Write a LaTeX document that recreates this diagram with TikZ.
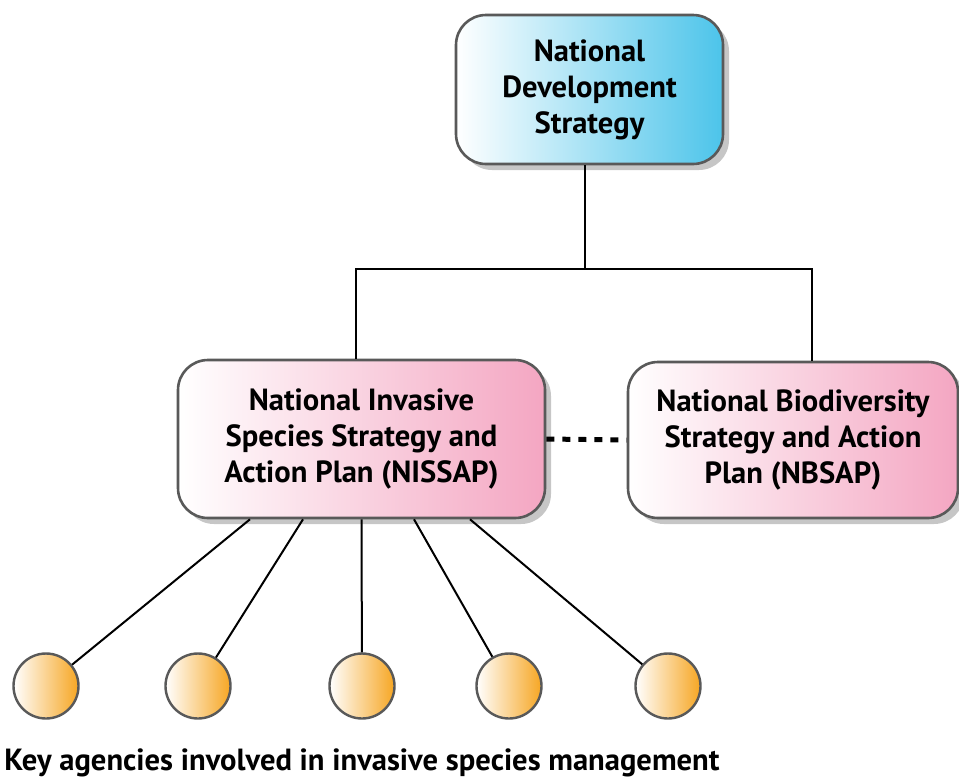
\documentclass[tikz,border=0pt]{standalone}
\usepackage{fontspec}
\setmainfont{PT Sans}
\usetikzlibrary{positioning,shadows}
\definecolor{devblue}{HTML}{4CC4EA}
\definecolor{planpink}{HTML}{F4A6C2}
\definecolor{agorange}{HTML}{F6A623}
\tikzset{node distance=2.0cm, auto}
\tikzset{
  plan/.style={draw=black!65, line width=1.3pt, rounded corners=15pt, align=center,
    left color=white, font=\bfseries\fontsize{15.3}{18}\selectfont,
    drop shadow={shadow xshift=3pt, shadow yshift=-3pt, opacity=0.45}},
  agency/.style={circle, draw=black!65, line width=1.2pt, minimum size=32.5pt,
    inner sep=0pt, left color=white, right color=agorange},
  link/.style={line width=1pt},
  dots/.style={line width=2.5pt, dash pattern=on 4pt off 4pt}
}
\begin{document}
\begin{tikzpicture}[x=0.5pt, y=-0.5pt]
\useasboundingbox (0,0) rectangle (959,778);

\node[plan, right color=devblue, minimum width=133.5pt, minimum height=74.5pt]
  (nds) at (589.5,89.5) {National\\Development\\Strategy};
\node[plan, right color=planpink, minimum width=183.5pt, minimum height=79pt]
  (nissap) at (361.5,439) {National Invasive\\Species Strategy and\\Action Plan (NISSAP)};
\node[plan, right color=planpink, minimum width=165pt, minimum height=78pt]
  (nbsap) at (793,440) {National Biodiversity\\Strategy and Action\\Plan (NBSAP)};

% links between the plans
\coordinate (fork) at ([xshift=-2.25pt]nds.south |- 0,269);
\draw[link] ([xshift=-2.25pt]nds.south) -- (fork);
\draw[link] ([xshift=-2.75pt]nissap.north) |- (fork) -| ([xshift=9.5pt]nbsap.north);
\draw[dots] (nissap.east) -- (nbsap.west);

% agencies
\foreach \i/\x/\s in {1/46/-55.75, 2/198/-29.25, 3/362/0, 4/509/26.25, 5/668/54.25} {
  \node[agency] (ag\i) at (\x,686) {};
  \draw[link] ([xshift=\s pt]nissap.south) -- (ag\i);
}

\node[anchor=base west, inner sep=0pt, font=\bfseries\fontsize{15.3}{18}\selectfont]
  (key) at (4,770) {Key agencies involved in invasive species management};
\end{tikzpicture}
\end{document}
